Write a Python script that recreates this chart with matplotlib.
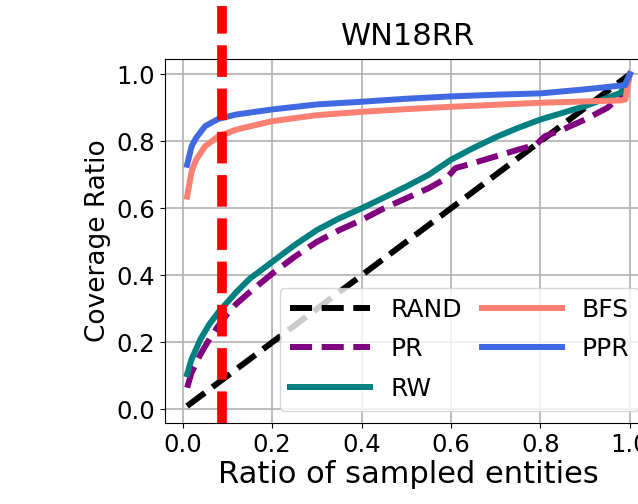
import matplotlib
matplotlib.use("Agg")
import matplotlib.pyplot as plt

# values
rand_x = [0.01, 0.1, 0.2, 0.3, 0.4, 0.5, 0.6, 0.7, 0.8, 0.9, 1.0]
rand_y = [0.01, 0.1, 0.2, 0.3, 0.4, 0.5, 0.6, 0.7, 0.8, 0.9, 1.0]

pr_x = [0.01, 0.02, 0.04, 0.06, 0.08, 0.1, 0.12, 0.15, 0.2, 0.25, 0.3, 0.35, 0.4,
        0.45, 0.5, 0.55, 0.59, 0.61, 0.65, 0.7, 0.75, 0.79, 0.81, 0.85, 0.9, 0.95,
        0.98, 1.0]
pr_y = [0.065, 0.11, 0.165, 0.21, 0.25, 0.285, 0.315, 0.35, 0.405, 0.455, 0.50,
        0.535, 0.565, 0.60, 0.63, 0.66, 0.69, 0.72, 0.735, 0.755, 0.775, 0.79,
        0.815, 0.835, 0.865, 0.90, 0.935, 1.0]

rw_x = [0.01, 0.02, 0.04, 0.06, 0.08, 0.1, 0.12, 0.15, 0.2, 0.25, 0.3, 0.35, 0.4,
        0.45, 0.5, 0.55, 0.6, 0.65, 0.7, 0.75, 0.8, 0.85, 0.9, 0.95, 0.98, 1.0]
rw_y = [0.105, 0.15, 0.21, 0.255, 0.29, 0.32, 0.35, 0.39, 0.44, 0.49, 0.535, 0.57,
        0.60, 0.632, 0.665, 0.70, 0.745, 0.78, 0.812, 0.84, 0.865, 0.885, 0.905,
        0.93, 0.945, 1.0]

bfs_x = [0.01, 0.02, 0.03, 0.05, 0.08, 0.12, 0.2, 0.3, 0.4, 0.5, 0.6, 0.7, 0.8,
         0.9, 0.98, 0.99, 1.0]
bfs_y = [0.635, 0.71, 0.745, 0.785, 0.815, 0.835, 0.86, 0.878, 0.888, 0.896, 0.903,
         0.909, 0.915, 0.919, 0.922, 0.925, 1.0]

ppr_x = [0.01, 0.02, 0.03, 0.05, 0.08, 0.12, 0.2, 0.3, 0.4, 0.5, 0.6, 0.7, 0.8,
         0.9, 0.97, 0.99, 1.0]
ppr_y = [0.73, 0.785, 0.81, 0.845, 0.867, 0.88, 0.895, 0.91, 0.918, 0.927, 0.934,
         0.939, 0.943, 0.955, 0.965, 0.968, 1.0]

cut_x = 0.087
x_ticks = [0.0, 0.2, 0.4, 0.6, 0.8, 1.0]
y_ticks = [0.0, 0.2, 0.4, 0.6, 0.8, 1.0]

fig = plt.figure(figsize=(6.38, 5.04), dpi=100)
ax = fig.add_axes([0.2586, 0.1607, 0.7633, 0.7222])

lw = 4.3
ax.plot(rand_x, rand_y, color="black", lw=lw, ls="--", label="RAND")
ax.plot(pr_x, pr_y, color="purple", lw=lw, ls="--", label="PR")
ax.plot(rw_x, rw_y, color="teal", lw=lw, label="RW")
ax.plot(bfs_x, bfs_y, color="salmon", lw=lw, label="BFS")
ax.plot(ppr_x, ppr_y, color="royalblue", lw=lw, label="PPR")

ax.axvline(cut_x, ymin=0, ymax=1.146, color="red", lw=7, dashes=(3.25, 1.2),
           clip_on=False, zorder=5)

ax.set_xlim(-0.0395, 1.0495)
ax.set_ylim(-0.0405, 1.0455)
ax.set_xticks(x_ticks)
ax.set_yticks(y_ticks)
ax.tick_params(labelsize=17.5)
ax.grid(True, color="#b0b0b0", lw=1.2)
ax.set_axisbelow(True)

ax.set_title("WN18RR", fontsize=22, pad=10)
ax.set_xlabel("Ratio of sampled entities", fontsize=22, labelpad=2)
ax.set_ylabel("Coverage Ratio", fontsize=19)

ax.legend(loc="lower right", ncol=2, fontsize=18, handlelength=3.2,
          columnspacing=0.8, handletextpad=0.8, labelspacing=0.62)

fig.savefig("out.png", dpi=100)
